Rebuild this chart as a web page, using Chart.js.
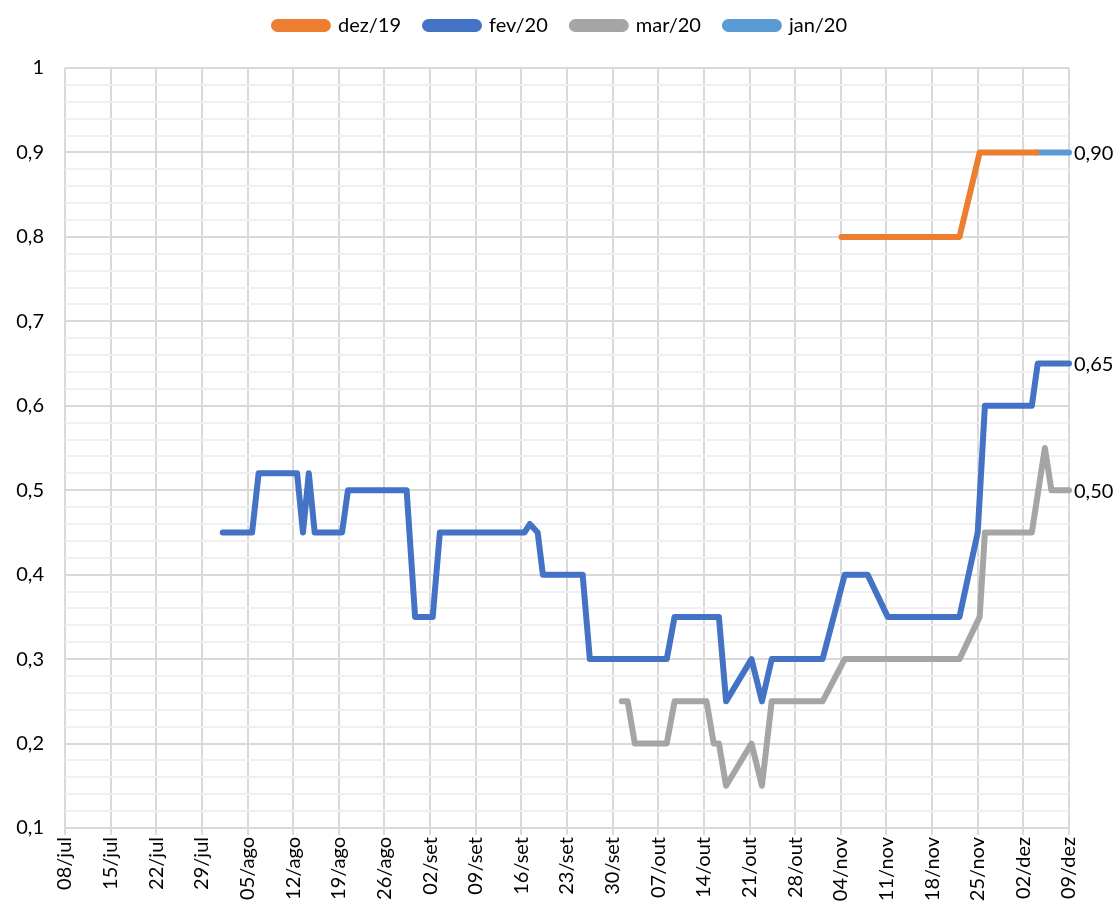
<!DOCTYPE html>
<html>
<head>
<meta charset="utf-8">
<script src="https://cdn.jsdelivr.net/npm/chart.js@4.4.1/dist/chart.umd.min.js"></script>
<style>
  html, body { margin: 0; padding: 0; background: #fff; }
  #wrap { width: 1120px; height: 913px; }
</style>
</head>
<body>
<div id="wrap"><canvas id="myChart"></canvas></div>
<script>
const DezColor = "#ED7D31";
const FevColor = "#4472C4";
const MarColor = "#A5A5A5";
const JanColor = "#5B9BD5";

// x = days counted from 08/jul
const weekLabels = [
  "08/jul", "15/jul", "22/jul", "29/jul", "05/ago", "12/ago", "19/ago", "26/ago",
  "02/set", "09/set", "16/set", "23/set", "30/set", "07/out", "14/out", "21/out",
  "28/out", "04/nov", "11/nov", "18/nov", "25/nov", "02/dez", "09/dez",
];

const dezDays = [119.1, 137.2, 140.3, 149];
const dezValues = [0.8, 0.8, 0.9, 0.9];

const fevDays = [
  24.2, 28.7, 29.7, 35.6, 36.5, 37.4, 38.3, 42.5, 43.4, 52.4, 53.7, 56.4, 57.5,
  70.5, 71.3, 72.5, 73.3, 79.4, 80.5, 92.3, 93.5, 100.3, 101.4, 105.3, 106.9,
  108.4, 116.2, 119.6, 123.1, 126.2, 137.2, 140, 141.1, 148.3, 149.2, 154,
];
const fevValues = [
  0.45, 0.45, 0.52, 0.52, 0.45, 0.52, 0.45, 0.45, 0.5, 0.5, 0.35, 0.35, 0.45,
  0.45, 0.46, 0.45, 0.4, 0.4, 0.3, 0.3, 0.35, 0.35, 0.25, 0.3, 0.25,
  0.3, 0.3, 0.4, 0.4, 0.35, 0.35, 0.45, 0.6, 0.6, 0.65, 0.65,
];

const marDays = [
  85.4, 86.3, 87.4, 92.3, 93.5, 98.4, 99.5, 100.3, 101.4, 105.3, 106.9, 108.4,
  116.2, 119.6, 137.2, 140.3, 141.1, 148.3, 150.3, 151.3, 154,
];
const marValues = [
  0.25, 0.25, 0.2, 0.2, 0.25, 0.25, 0.2, 0.2, 0.15, 0.2, 0.15, 0.25,
  0.25, 0.3, 0.3, 0.35, 0.45, 0.45, 0.55, 0.5, 0.5,
];

const janDays = [149, 154];
const janValues = [0.9, 0.9];

function points(days, values) {
  return days.map((d, i) => ({ x: d, y: values[i] }));
}

function serie(label, color, days, values, endLabel) {
  return {
    label: label,
    data: points(days, values),
    borderColor: color,
    backgroundColor: color,
    borderWidth: 6,
    borderCapStyle: "round",
    borderJoinStyle: "round",
    pointRadius: 0,
    pointHoverRadius: 0,
    tension: 0,
    clip: false,
    endLabel: endLabel,
  };
}

// labels at the end of the lines (0,90 / 0,65 / 0,50)
const endLabels = {
  id: "endLabels",
  afterDatasetsDraw(chart) {
    const c = chart.ctx;
    c.save();
    c.font = "20px Lato";
    c.fillStyle = "#000";
    c.textAlign = "left";
    c.textBaseline = "middle";
    chart.data.datasets.forEach((ds, i) => {
      if (!ds.endLabel) return;
      const meta = chart.getDatasetMeta(i);
      const pt = meta.data[meta.data.length - 1];
      const v = ds.data[ds.data.length - 1].y;
      c.fillText(v.toFixed(2).replace(".", ","), pt.x + 5, pt.y + 1);
    });
    c.restore();
  },
};

// extra room under the legend, and legend centred on the whole page
const legendGap = {
  id: "legendGap",
  beforeLayout(chart) {
    const lg = chart.legend;
    if (lg && !lg._gapDone) {
      const fit = lg.fit;
      lg.fit = function () {
        fit.call(this);
        this.height += 22.5;
      };
      lg._gapDone = true;
    }
  },
  afterLayout(chart) {
    const lg = chart.legend;
    if (lg) {
      lg.left += 26;
      lg.right += 26;
    }
  },
};

const ctx = document.getElementById("myChart").getContext("2d");
const myChart = new Chart(ctx, {
  type: "line",
  data: {
    datasets: [
      serie("dez/19", DezColor, dezDays, dezValues, false),
      serie("fev/20", FevColor, fevDays, fevValues, true),
      serie("mar/20", MarColor, marDays, marValues, true),
      serie("jan/20", JanColor, janDays, janValues, true),
    ],
  },
  options: {
    responsive: true,
    maintainAspectRatio: false,
    animation: false,
    events: [],
    layout: {
      padding: { top: -8.5, right: 51, left: 0, bottom: 0 },
    },
    plugins: {
      legend: {
        position: "top",
        labels: {
          font: { family: "Lato", size: 20 },
          color: "#000",
          boxWidth: 54,
          boxHeight: 7,
          padding: 24,
          useBorderRadius: true,
          borderRadius: 3.5,
        },
      },
      tooltip: { enabled: false },
    },
    scales: {
      x: {
        type: "linear",
        min: 0,
        max: 154,
        afterFit: (scale) => { scale.height = 85; },
        border: { display: true, color: "#d9d9d9", width: 2 },
        grid: {
          color: "#d9d9d9",
          lineWidth: 2,
          tickLength: 7,
        },
        ticks: {
          stepSize: 7,
          maxTicksLimit: 100,
          autoSkip: false,
          minRotation: 90,
          maxRotation: 90,
          padding: 2,
          color: "#000",
          font: { family: "Lato", size: 20 },
          callback: (v) => weekLabels[Math.round(v / 7)],
        },
      },
      y: {
        min: 0.1,
        max: 1,
        afterFit: (scale) => { scale.width = 65; },
        border: { display: false },
        grid: {
          drawTicks: false,
          lineWidth: 2,
          color: (c) => {
            const r = Math.round(c.tick.value * 100);
            return r % 10 === 0 ? "#d9d9d9" : "#f0f0f0";
          },
        },
        ticks: {
          stepSize: 0.02,
          maxTicksLimit: 100,
          autoSkip: false,
          padding: 21,
          color: "#000",
          font: { family: "Lato", size: 20 },
          callback: (v) => {
            const r = Math.round(v * 100);
            return r % 10 === 0 ? String(r / 100).replace(".", ",") : "";
          },
        },
      },
    },
  },
  plugins: [endLabels, legendGap],
});
</script>
</body>
</html>
